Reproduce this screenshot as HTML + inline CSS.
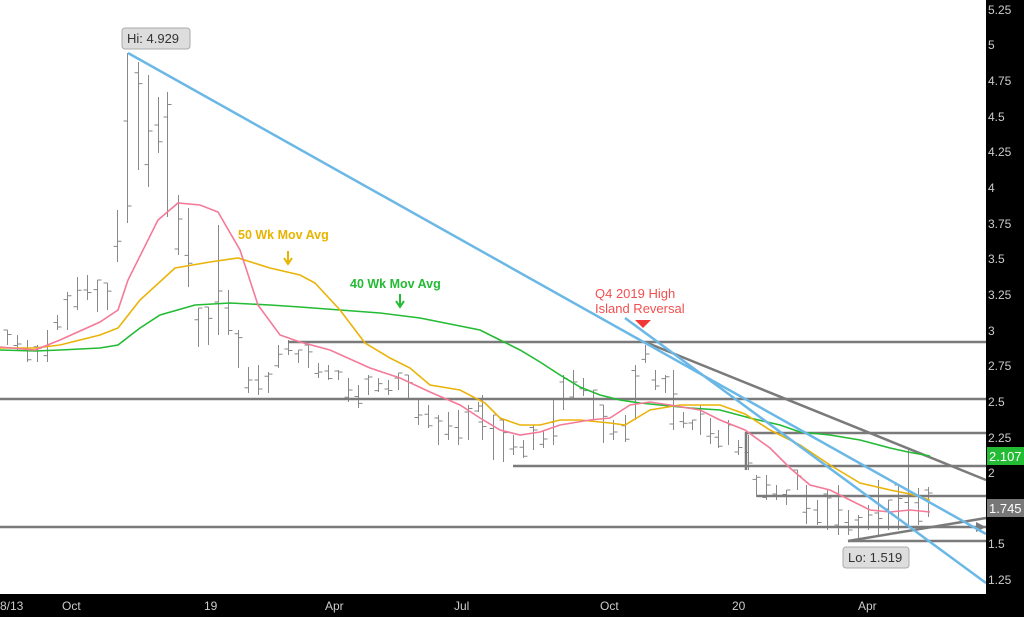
<!DOCTYPE html>
<html><head><meta charset="utf-8"><style>
html,body{margin:0;padding:0;background:#fff;}
svg{display:block;font-family:"Liberation Sans",sans-serif;}
</style></head><body>
<svg width="1024" height="617" viewBox="0 0 1024 617" xmlns="http://www.w3.org/2000/svg">
<rect x="0" y="0" width="1024" height="617" fill="#fff"/>
<g id="bars" stroke="#888" stroke-width="1" fill="none"></g>
<!-- horizontal gray lines -->
<g stroke="#7a7a7a" stroke-width="2.5" fill="none">
<line x1="0" y1="399" x2="986" y2="399"/>
<line x1="0" y1="527" x2="986" y2="527"/>
<line x1="288" y1="342" x2="986" y2="342"/>
<polyline points="746,470 746,433 986,433"/>
<line x1="513" y1="466" x2="986" y2="466"/>
<line x1="757" y1="496" x2="986" y2="496"/>
<line x1="848" y1="541" x2="986" y2="541"/>
<line x1="645" y1="342" x2="986" y2="480"/>
<line x1="848" y1="541" x2="986" y2="518"/>
</g>
<polygon points="986,527 976,522 976,532" fill="#7a7a7a"/>
<!-- MAs -->
<polyline fill="none" stroke="#22bb33" stroke-width="1.6" points="0,350 35,351 60,350 100,348 118,345 140,328 160,315 195,305 230,303 270,305 300,307 340,310 380,313 420,318 460,326 480,330 500,340 520,350 540,362 560,375 580,387 600,395 620,400 640,403 660,405 690,408 720,410 750,418 780,425 800,432 830,435 860,440 890,448 908,452 930,456"/>
<polyline fill="none" stroke="#eab308" stroke-width="1.6" points="0,348 35,348 60,345 100,335 118,328 140,300 175,268 210,262 238,258 270,268 300,275 315,283 340,310 365,343 390,358 410,368 430,385 460,390 485,403 500,418 520,425 540,425 560,420 580,420 610,423 625,425 650,410 680,405 720,405 745,414 770,430 800,445 830,465 860,483 890,490 910,494 930,500"/>
<polyline fill="none" stroke="#f47a98" stroke-width="1.6" points="0,347 35,350 60,340 100,322 118,310 128,280 158,220 178,203 200,205 218,212 240,250 258,305 280,335 300,342 330,350 370,368 400,378 430,392 460,405 480,418 500,430 520,435 540,432 560,425 590,420 610,418 630,405 650,402 670,405 700,410 720,420 745,430 770,448 790,468 810,485 830,490 850,500 870,510 890,512 910,510 930,512"/>
<!-- blue trendlines -->
<g stroke="#6bb8e6" stroke-width="2.5" fill="none">
<line x1="128" y1="53" x2="986" y2="534"/>
<line x1="625" y1="318" x2="986" y2="583"/>
</g>
<!-- annotations -->
<rect x="122" y="28" width="68" height="21" rx="3" fill="#ddd" stroke="#aaa"/>
<text x="127" y="43" font-size="13" fill="#333">Hi: 4.929</text>
<rect x="843" y="547" width="66" height="21" rx="3" fill="#ddd" stroke="#aaa"/>
<text x="848" y="562" font-size="13" fill="#333">Lo: 1.519</text>
<text x="238" y="239" font-size="12.5" font-weight="bold" fill="#e8b400">50 Wk Mov Avg</text>
<path d="M288 251 V262 M284 258 L288 264 L292 258" stroke="#e8b400" stroke-width="2" fill="none"/>
<text x="350" y="288" font-size="12.5" font-weight="bold" fill="#22bb33">40 Wk Mov Avg</text>
<path d="M400 294 V305 M396 301 L400 307 L404 301" stroke="#22bb33" stroke-width="2" fill="none"/>
<text x="595" y="298" font-size="13" fill="#f05050">Q4 2019 High</text>
<text x="595" y="313" font-size="13" fill="#f05050">Island Reversal</text>
<polygon points="635,320 651,320 643,328" fill="#f03838"/>
<!-- axes -->
<rect x="986" y="0" width="38" height="617" fill="#000"/>
<rect x="0" y="594" width="1024" height="23" fill="#000"/>
<g font-size="12" fill="#ccc">
<text x="988" y="14">5.25</text>
<text x="988" y="49">5</text>
<text x="988" y="85">4.75</text>
<text x="988" y="121">4.5</text>
<text x="988" y="156">4.25</text>
<text x="988" y="192">4</text>
<text x="988" y="228">3.75</text>
<text x="988" y="263">3.5</text>
<text x="988" y="299">3.25</text>
<text x="988" y="335">3</text>
<text x="988" y="370">2.75</text>
<text x="988" y="406">2.5</text>
<text x="988" y="442">2.25</text>
<text x="988" y="477">2</text>
<text x="988" y="548">1.5</text>
<text x="988" y="584">1.25</text>
<text x="0" y="610">8/13</text>
<text x="62" y="610">Oct</text>
<text x="204" y="610">19</text>
<text x="325" y="610">Apr</text>
<text x="454" y="610">Jul</text>
<text x="600" y="610">Oct</text>
<text x="732" y="610">20</text>
<text x="858" y="610">Apr</text>
</g>
<rect x="987" y="447" width="37" height="18" fill="#22bb33"/>
<text x="989" y="461" font-size="13" fill="#fff">2.107</text>
<rect x="987" y="499" width="37" height="18" fill="#777"/>
<text x="989" y="513" font-size="13" fill="#fff">1.745</text>
</svg>
<script>
var b=[[7,330,345],[17,335,350],[27,340,362],[37,345,362],[47,330,362],[57,315,330],[67,292,330],[77,277,310],[87,275,300],[97,280,312],[107,283,310],[117,210,262],[127,53,223],[138,62,170],[148,75,187],[158,97,153],[167,92,217],[178,195,255],[188,208,287],[198,308,347],[208,307,345],[218,225,335],[228,290,335],[238,330,368],[248,367,393],[258,365,395],[268,372,393],[278,345,368],[288,340,355],[298,350,363],[308,345,368],[318,363,378],[328,365,380],[338,370,380],[348,378,402],[358,385,408],[368,375,395],[378,378,392],[388,380,395],[398,373,390],[408,375,400],[418,400,425],[428,405,428],[438,415,445],[448,412,440],[458,410,445],[468,405,440],[478,402,412],[482,395,440],[493,415,460],[503,420,462],[513,435,455],[523,440,458],[533,425,450],[543,430,448],[553,400,445],[563,375,410],[573,370,400],[583,378,396],[593,390,420],[603,405,443],[613,420,440],[625,415,442],[635,365,420],[645,345,363],[655,370,390],[665,375,393],[673,370,430],[683,412,428],[692,420,430],[700,405,435],[710,418,444],[718,430,448],[728,420,445],[738,440,455],[748,435,470],[756,475,497],[766,475,500],[776,485,500],[786,490,505],[797,470,490],[806,485,524],[817,500,525],[827,490,530],[838,485,535],[848,510,535],[858,515,540],[868,505,530],[878,480,535],[888,500,530],[898,485,530],[908,450,525],[918,488,525],[928,487,517]];
var g=document.getElementById('bars'),s='';
b.forEach(function(a,i){var x=a[0]+0.5,h=a[2]-a[1];var o=a[1]+h*((i*37)%10)/10,c=a[1]+h*((i*53+3)%10)/10;
s+='M'+x+' '+a[1]+'V'+a[2]+'M'+(x-4)+' '+o.toFixed(1)+'H'+x+'M'+x+' '+c.toFixed(1)+'H'+(x+4);});
var p=document.createElementNS('http://www.w3.org/2000/svg','path');p.setAttribute('d',s);g.appendChild(p);
</script>
</body></html>
